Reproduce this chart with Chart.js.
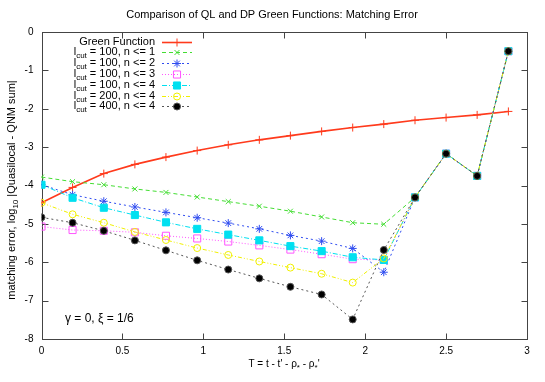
<!DOCTYPE html>
<html>
<head>
<meta charset="utf-8">
<script src="https://cdn.jsdelivr.net/npm/chart.js@4.4.0/dist/chart.umd.min.js"></script>
<style>
html, body { margin: 0; padding: 0; background: #fff; }
#wrap { width: 545px; height: 382px; }
</style>
</head>
<body>
<div id="wrap"><canvas id="chart" width="545" height="382"></canvas></div>
<script>
// QL vs DP Green function matching error - Chart.js line/scatter recreation

const T = [0, 0.192, 0.385, 0.577, 0.769, 0.962, 1.154, 1.346, 1.538, 1.731, 1.923, 2.115, 2.308, 2.5, 2.692, 2.885];
const greenFn  = [-4.45, -4.05, -3.69, -3.45, -3.26, -3.09, -2.94, -2.81, -2.70, -2.59, -2.49, -2.40, -2.30, -2.23, -2.16, -2.07];
const l100n1   = [-3.78, -3.90, -3.98, -4.09, -4.18, -4.30, -4.42, -4.54, -4.67, -4.82, -4.97, -5.01, -4.31, -3.17, -3.75, -0.50];
const l100n2   = [-3.98, -4.24, -4.41, -4.56, -4.70, -4.84, -4.98, -5.13, -5.30, -5.45, -5.64, -6.26, -4.31, -3.17, -3.75, -0.50];
const l100n3   = [-5.07, -5.16, -5.18, -5.22, -5.31, -5.38, -5.46, -5.56, -5.67, -5.79, -5.92, -5.94, -4.31, -3.17, -3.75, -0.50];
const l100n4   = [-3.98, -4.32, -4.58, -4.77, -4.96, -5.13, -5.28, -5.43, -5.58, -5.71, -5.87, -5.94, -4.31, -3.17, -3.75, -0.50];
const l200n4   = [-4.45, -4.75, -4.97, -5.21, -5.42, -5.63, -5.81, -5.98, -6.14, -6.30, -6.53, -5.90, -4.31, -3.17, -3.75, -0.50];
const l400n4   = [-4.83, -4.97, -5.18, -5.43, -5.69, -5.95, -6.19, -6.42, -6.64, -6.84, -7.49, -5.68, -4.31, -3.17, -3.75, -0.50];

const LABELS = ['Green Function', 'l_cut = 100, n <= 1', 'l_cut = 100, n <= 2', 'l_cut = 100, n <= 3',
                'l_cut = 100, n <= 4', 'l_cut = 200, n <= 4', 'l_cut = 400, n <= 4'];
const X_TICKS = [0, 0.5, 1, 1.5, 2, 2.5, 3];
const Y_TICKS = [0, -1, -2, -3, -4, -5, -6, -7, -8];

const FONT = '"Liberation Sans", Arial, Helvetica, sans-serif';

function pts(ys) { return ys.map((y, i) => ({ x: T[i], y: y })); }

function mk(i, ys, color, dash, width, pstyle, prad, pfill) {
    return {
        label: LABELS[i], data: pts(ys),
        borderColor: color, borderWidth: width, borderDash: dash,
        pointStyle: pstyle, pointRadius: prad, pointBorderColor: color,
        pointBackgroundColor: pfill, pointBorderWidth: 1, pointHoverRadius: prad,
        fill: false, tension: 0, order: 10 - i
    };
}

// draws "l_cut ..." style text with a smaller lowered subscript
function richParts(s) {
    if (s.indexOf('l_cut') === 0) return [['l', 0], ['cut', 1], [s.slice(5), 0]];
    return [[s, 0]];
}
function drawRich(ctx, parts, x, y, align, size) {
    const fn = size + 'px ' + FONT, fs = Math.round(size * 0.75) + 'px ' + FONT;
    let w = 0;
    parts.forEach(p => { ctx.font = p[1] ? fs : fn; w += ctx.measureText(p[0]).width; });
    let cx = align === 'right' ? x - w : (align === 'center' ? x - w / 2 : x);
    ctx.textAlign = 'left'; ctx.textBaseline = 'middle'; ctx.fillStyle = '#000';
    parts.forEach(p => {
        ctx.font = p[1] ? fs : fn;
        ctx.fillText(p[0], cx, y + (p[1] ? size * 0.35 : 0));
        cx += ctx.measureText(p[0]).width;
    });
}

const framePlugin = {
    id: 'frame',
    beforeDatasetsDraw(chart) {
        const ctx = chart.ctx, a = chart.chartArea, sx = chart.scales.x, sy = chart.scales.y;
        const L = Math.round(a.left) + 0.5, R = Math.round(a.right) + 0.5;
        const Tp = Math.round(a.top) + 0.5, B = Math.round(a.bottom) + 0.5;
        ctx.save();
        ctx.strokeStyle = '#444'; ctx.lineWidth = 1; ctx.setLineDash([]);
        ctx.strokeRect(L, Tp, R - L, B - Tp);
        ctx.beginPath();
        X_TICKS.forEach(v => {
            const px = Math.round(sx.getPixelForValue(v)) + 0.5;
            ctx.moveTo(px, B); ctx.lineTo(px, B - 6);
            ctx.moveTo(px, Tp); ctx.lineTo(px, Tp + 6);
        });
        Y_TICKS.forEach(v => {
            const py = Math.round(sy.getPixelForValue(v)) + 0.5;
            ctx.moveTo(L, py); ctx.lineTo(L + 6, py);
            ctx.moveTo(R, py); ctx.lineTo(R - 6, py);
        });
        ctx.stroke();
        ctx.restore();
    },
    afterDraw(chart) {
        const ctx = chart.ctx;
        ctx.save();
        // title + axis titles
        drawRich(ctx, [['Comparison of QL and DP Green Functions: Matching Error', 0]], 272, 15, 'center', 11);
        drawRich(ctx, [['T = t - t\' - \u03c1', 0], ['*', 1], [' - \u03c1', 0], ['*', 1], ['\'', 0]], 284, 364, 'center', 10);
        ctx.save();
        ctx.translate(12, 190); ctx.rotate(-Math.PI / 2);
        drawRich(ctx, [['matching error, log', 0], ['10', 1], [' |Quasilocal - QNM sum|', 0]], 0, 0, 'center', 11);
        ctx.restore();
        drawRich(ctx, [['\u03b3 = 0, \u03be = 1/6', 0]], 65, 319, 'left', 12);

        // key
        chart.data.datasets.forEach((ds, i) => {
            const y = 41.5 + i * 10.8;
            drawRich(ctx, richParts(ds.label), 155, y, 'right', 11);
            ctx.strokeStyle = ds.borderColor; ctx.lineWidth = ds.borderWidth;
            ctx.setLineDash(ds.borderDash);
            ctx.beginPath(); ctx.moveTo(162, Math.round(y) + 0.5); ctx.lineTo(192, Math.round(y) + 0.5); ctx.stroke();
            ctx.setLineDash([]);
            ctx.lineWidth = 1;
            ctx.fillStyle = ds.pointBackgroundColor;
            Chart.helpers.drawPoint(ctx, { pointStyle: ds.pointStyle, radius: ds.pointRadius, borderWidth: 1, rotation: 0 }, 177, Math.round(y) + 0.5);
        });
        ctx.restore();
    }
};

function build() {
    const ctx = document.getElementById('chart').getContext('2d');
    new Chart(ctx, {
        type: 'line',
        data: {
            datasets: [
                mk(0, greenFn, '#ff3a1c', [],            1.6, 'cross',    4,   'rgba(0,0,0,0)'),
                mk(1, l100n1,  '#44dd33', [4, 3],        1,   'crossRot', 3.5, 'rgba(0,0,0,0)'),
                mk(2, l100n2,  '#2f4cf0', [2, 3],        1,   'star',     4,   'rgba(0,0,0,0)'),
                mk(3, l100n3,  '#ff55ff', [1, 2],        1,   'rect',     5,   'rgba(0,0,0,0)'),
                mk(4, l100n4,  '#00e0f0', [5, 2, 1, 2],  1,   'rect',     5,   '#00e0f0'),
                mk(5, l200n4,  '#f0f000', [4, 2, 1, 2, 1, 2], 1, 'circle', 3.5, 'rgba(0,0,0,0)'),
                mk(6, l400n4,  '#555555', [2, 3],        1,   'circle',   3.5, '#000000')
            ]
        },
        options: {
            responsive: false, animation: false, devicePixelRatio: 1,
            layout: { padding: { top: 32, right: 18, left: 0, bottom: 0 } },
            plugins: { legend: { display: false }, title: { display: false }, tooltip: { enabled: false } },
            scales: {
                x: {
                    type: 'linear', min: 0, max: 3,
                    afterBuildTicks: s => { s.ticks = X_TICKS.map(v => ({ value: v })); },
                    afterFit: s => { s.height = 43; },
                    grid: { display: false, drawTicks: false }, border: { display: false },
                    ticks: { color: '#000', font: { family: FONT, size: 10 }, padding: 6, maxRotation: 0,
                             callback: v => String(v) }
                },
                y: {
                    type: 'linear', min: -8, max: 0,
                    afterBuildTicks: s => { s.ticks = Y_TICKS.map(v => ({ value: v })); },
                    afterFit: s => { s.width = 41.5; },
                    grid: { display: false, drawTicks: false }, border: { display: false },
                    ticks: { color: '#000', font: { family: FONT, size: 10 }, padding: 8,
                             callback: v => String(v) }
                }
            }
        },
        plugins: [framePlugin]
    });
}
build();
</script>
</body>
</html>
